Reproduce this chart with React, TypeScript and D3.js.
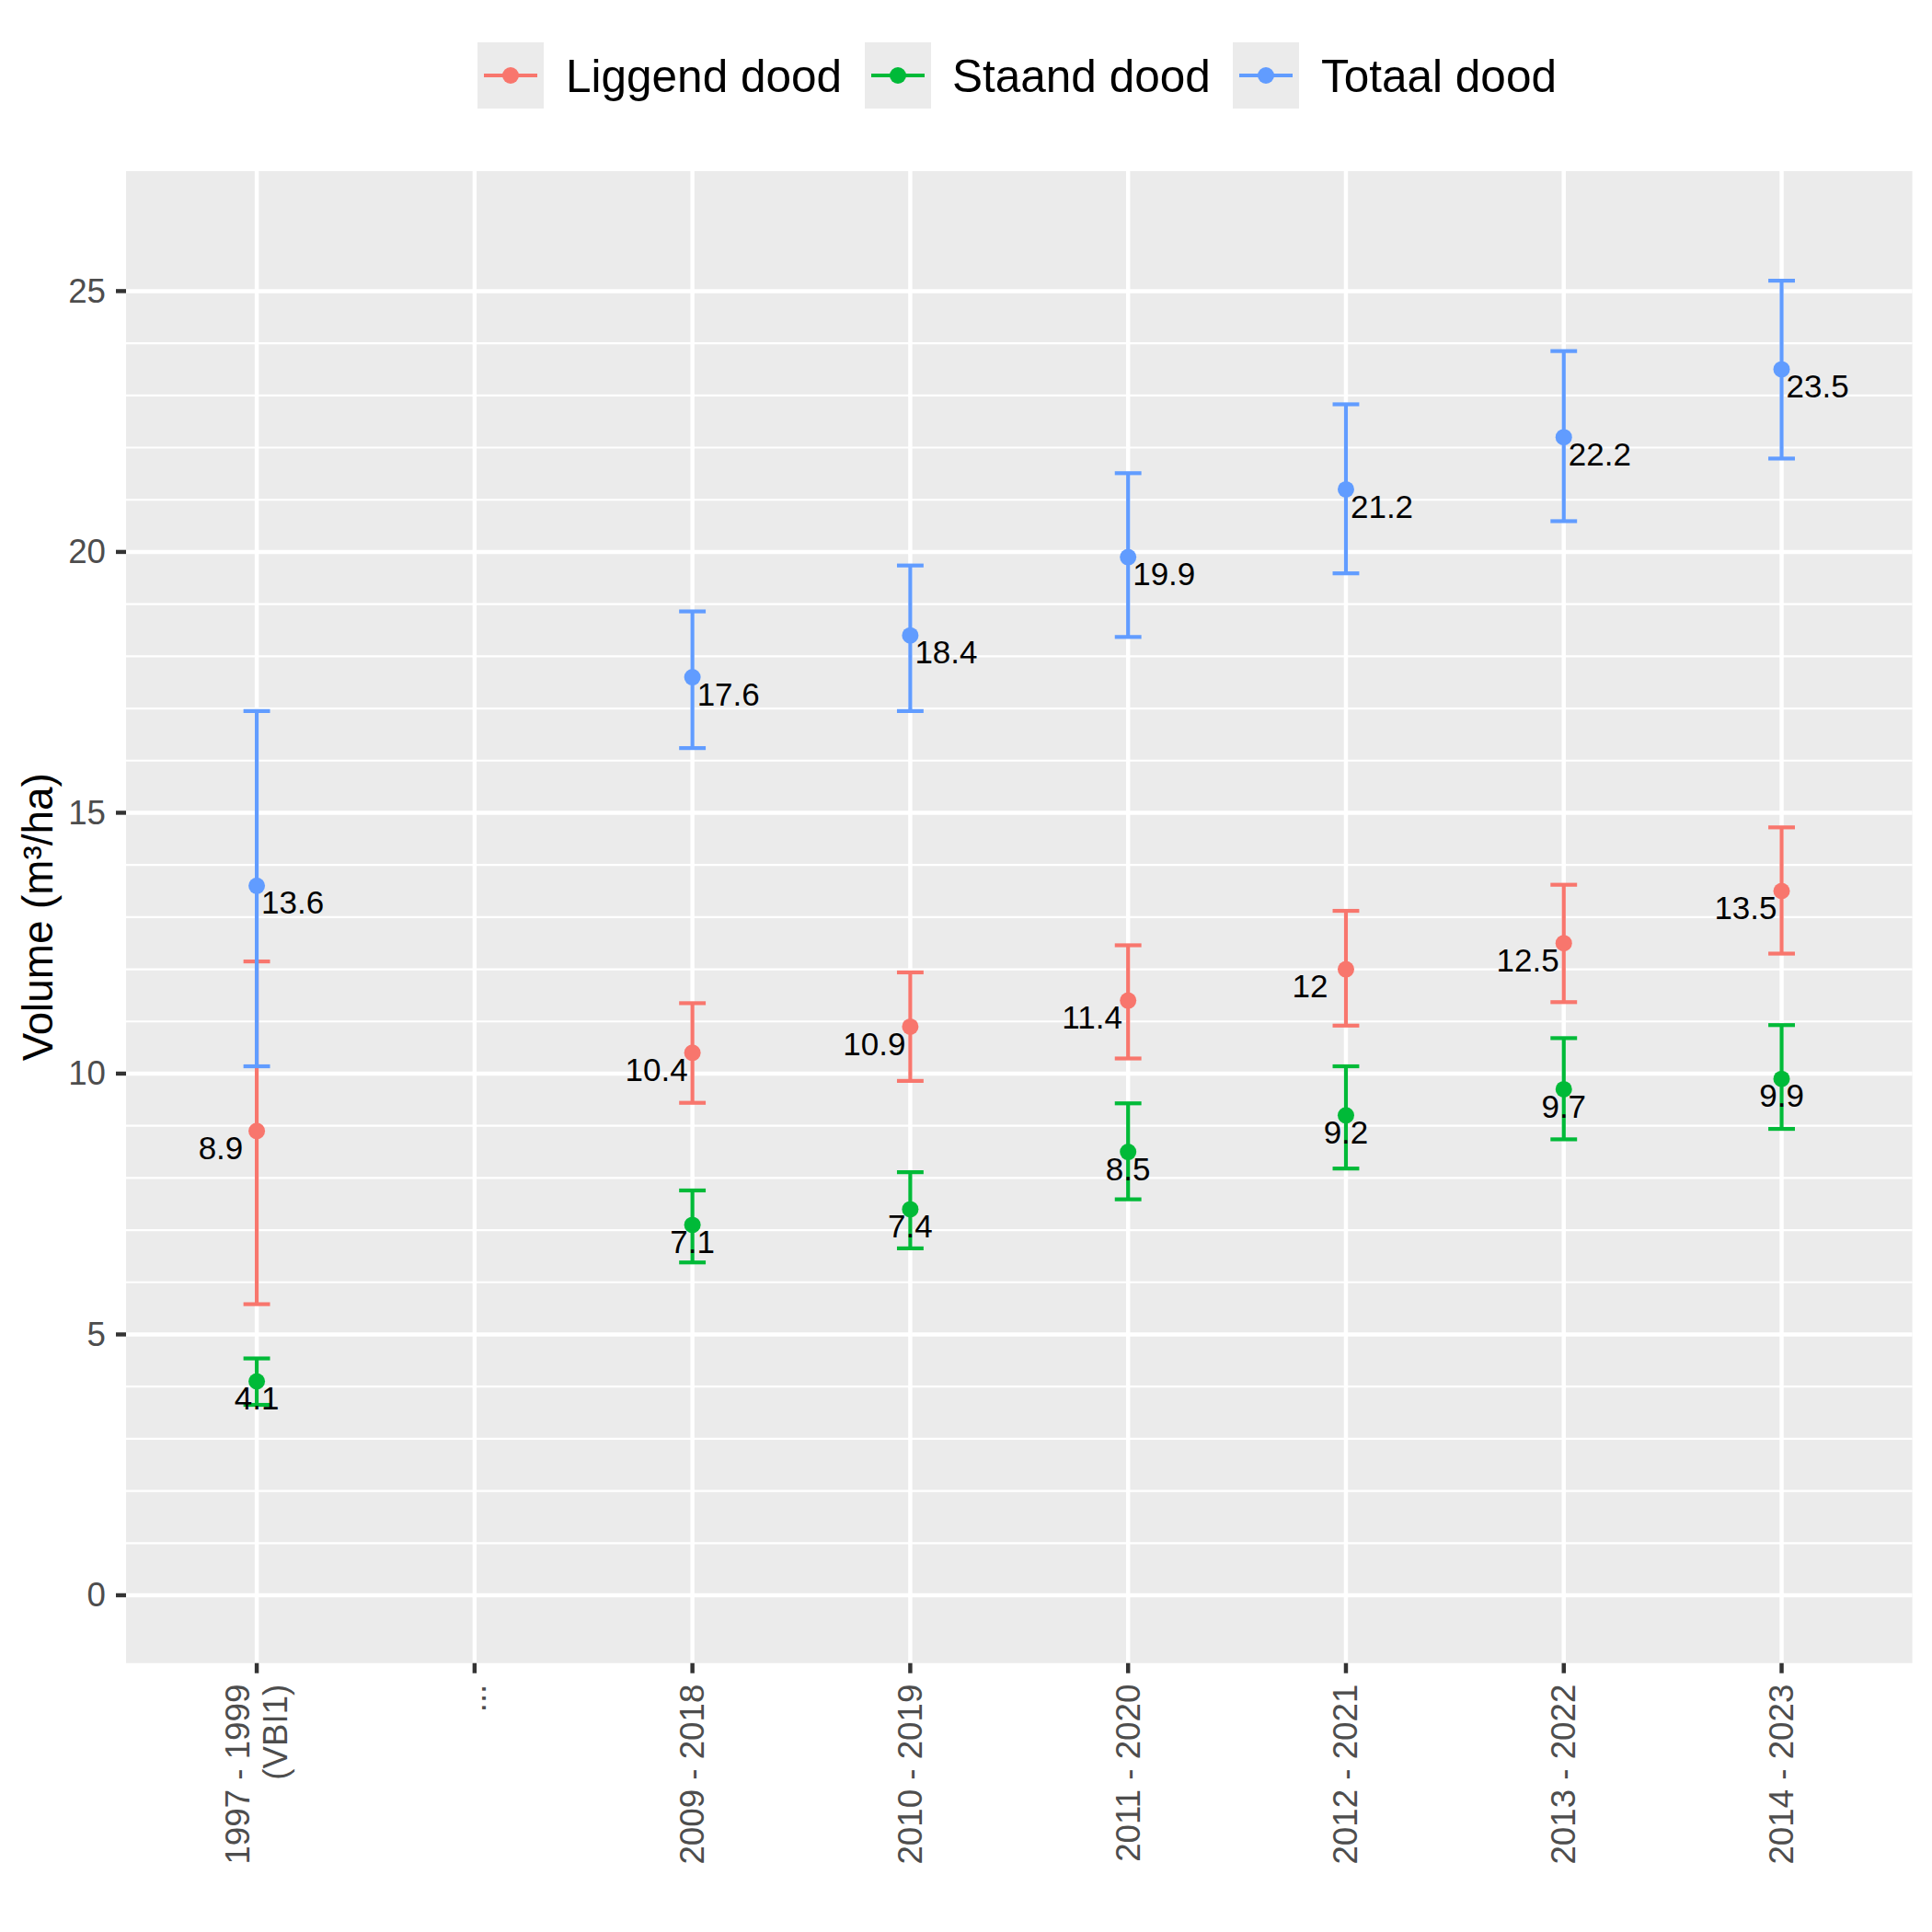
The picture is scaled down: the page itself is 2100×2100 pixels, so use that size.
import React from "react";
import * as d3 from "d3";

const categories = [
  "1997 - 1999\n(VBI1)",
  "...",
  "2009 - 2018",
  "2010 - 2019",
  "2011 - 2020",
  "2012 - 2021",
  "2013 - 2022",
  "2014 - 2023",
];

const liggendMean = [8.9, null, 10.4, 10.9, 11.4, 12, 12.5, 13.5];
const liggendLow = [5.58, null, 9.44, 9.86, 10.29, 10.92, 11.37, 12.3];
const liggendHigh = [12.15, null, 11.35, 11.94, 12.46, 13.12, 13.62, 14.72];

const staandMean = [4.1, null, 7.1, 7.4, 8.5, 9.2, 9.7, 9.9];
const staandLow = [3.65, null, 6.38, 6.65, 7.59, 8.18, 8.74, 8.94];
const staandHigh = [4.54, null, 7.76, 8.11, 9.43, 10.14, 10.68, 10.93];

const totaalMean = [13.6, null, 17.6, 18.4, 19.9, 21.2, 22.2, 23.5];
const totaalLow = [10.14, null, 16.24, 16.95, 18.37, 19.59, 20.59, 21.79];
const totaalHigh = [16.95, null, 18.86, 19.74, 21.51, 22.83, 23.85, 25.2];

const seriesNames = ["Liggend dood", "Staand dood", "Totaal dood"];
const seriesColors = ["#F8766D", "#00BA38", "#619CFF"];
const labelNudge = [-1, 0, 1];

const yMajor = [0, 5, 10, 15, 20, 25];
const yMinor = d3.range(0, 26).filter((v) => v % 5 !== 0);

const FONT = "'Liberation Sans', Arial, Helvetica, sans-serif";

export default function App() {
  const W = 2100;
  const H = 2100;
  const panel = { left: 137, right: 2078.6, top: 186, bottom: 1807.7 };

  const x = d3
    .scalePoint<string>()
    .domain(categories)
    .range([panel.left, panel.right])
    .padding(0.6);
  const y = d3.scaleLinear().domain([-1.3, 27.3]).range([panel.bottom, panel.top]);

  const series = [
    { mean: liggendMean, low: liggendLow, high: liggendHigh },
    { mean: staandMean, low: staandLow, high: staandHigh },
    { mean: totaalMean, low: totaalLow, high: totaalHigh },
  ];

  const step = x.step();
  const capHalf = step * 0.061;
  const nudgePx = step * 0.165;

  const legendKeysX = [519, 940, 1340];
  const legendTextX = [615, 1035, 1436];

  return (
    <svg
      width={W}
      height={H}
      style={{ position: "absolute", left: 0, top: 0, background: "#fff" }}
      fontFamily={FONT}
    >
      <rect x={0} y={0} width={W} height={H} fill="#ffffff" />
      {/* panel */}
      <rect
        x={panel.left}
        y={panel.top}
        width={panel.right - panel.left}
        height={panel.bottom - panel.top}
        fill="#EBEBEB"
      />
      {yMinor.map((v) => (
        <line
          key={"mi" + v}
          x1={panel.left}
          x2={panel.right}
          y1={y(v)}
          y2={y(v)}
          stroke="#fff"
          strokeWidth={2.2}
        />
      ))}
      {yMajor.map((v) => (
        <line
          key={"ma" + v}
          x1={panel.left}
          x2={panel.right}
          y1={y(v)}
          y2={y(v)}
          stroke="#fff"
          strokeWidth={4.45}
        />
      ))}
      {categories.map((c) => (
        <line
          key={"vx" + c}
          x1={x(c)}
          x2={x(c)}
          y1={panel.top}
          y2={panel.bottom}
          stroke="#fff"
          strokeWidth={4.45}
        />
      ))}

      {/* error bars */}
      {series.map((s, si) =>
        categories.map((c, i) => {
          if (s.mean[i] == null) return null;
          const cx = x(c) as number;
          const col = seriesColors[si];
          return (
            <g key={"eb" + si + "-" + i} stroke={col} strokeWidth={4.2} fill="none">
              <line x1={cx} x2={cx} y1={y(s.low[i] as number)} y2={y(s.high[i] as number)} />
              <line x1={cx - capHalf} x2={cx + capHalf} y1={y(s.low[i] as number)} y2={y(s.low[i] as number)} />
              <line x1={cx - capHalf} x2={cx + capHalf} y1={y(s.high[i] as number)} y2={y(s.high[i] as number)} />
            </g>
          );
        })
      )}
      {/* points */}
      {series.map((s, si) =>
        categories.map((c, i) => {
          if (s.mean[i] == null) return null;
          return (
            <circle
              key={"pt" + si + "-" + i}
              cx={x(c) as number}
              cy={y(s.mean[i] as number)}
              r={9}
              fill={seriesColors[si]}
            />
          );
        })
      )}
      {/* labels */}
      {series.map((s, si) =>
        categories.map((c, i) => {
          if (s.mean[i] == null) return null;
          return (
            <text
              key={"lb" + si + "-" + i}
              x={(x(c) as number) + labelNudge[si] * nudgePx}
              y={y((s.mean[i] as number) - 0.32)}
              textAnchor="middle"
              dominantBaseline="central"
              fontSize={35}
              fill="#000"
            >
              {String(s.mean[i])}
            </text>
          );
        })
      )}

      {/* y axis */}
      {yMajor.map((v) => (
        <g key={"yt" + v}>
          <line x1={panel.left - 11} x2={panel.left} y1={y(v)} y2={y(v)} stroke="#333333" strokeWidth={4.45} />
          <text
            x={panel.left - 22}
            y={y(v)}
            textAnchor="end"
            dominantBaseline="central"
            fontSize={36.7}
            fill="#4D4D4D"
          >
            {v}
          </text>
        </g>
      ))}
      <text
        transform={`translate(41, ${(panel.top + panel.bottom) / 2}) rotate(-90)`}
        textAnchor="middle"
        dominantBaseline="central"
        fontSize={45.8}
        fill="#000"
      >
        Volume (m³/ha)
      </text>

      {/* x axis */}
      {categories.map((c) => {
        const cx = x(c) as number;
        const lines = c.split("\n");
        const lh = 41;
        return (
          <g key={"xt" + c}>
            <line x1={cx} x2={cx} y1={panel.bottom} y2={panel.bottom + 11} stroke="#333333" strokeWidth={4.45} />
            <g transform={`translate(${cx}, ${panel.bottom + 23}) rotate(-90)`}>
              {lines.map((ln, li) => (
                <text
                  key={li}
                  x={0}
                  y={(li - (lines.length - 1) / 2) * lh}
                  textAnchor="end"
                  dominantBaseline="central"
                  fontSize={36.7}
                  fill="#4D4D4D"
                >
                  {ln}
                </text>
              ))}
            </g>
          </g>
        );
      })}

      {/* legend */}
      {seriesNames.map((nm, si) => (
        <g key={"lg" + si}>
          <rect x={legendKeysX[si]} y={46} width={72} height={72} fill="#EBEBEB" />
          <line
            x1={legendKeysX[si] + 7}
            x2={legendKeysX[si] + 65}
            y1={82}
            y2={82}
            stroke={seriesColors[si]}
            strokeWidth={4.2}
          />
          <circle cx={legendKeysX[si] + 36} cy={82} r={9} fill={seriesColors[si]} />
          <text x={legendTextX[si]} y={82} dominantBaseline="central" fontSize={49.5} fill="#000">
            {nm}
          </text>
        </g>
      ))}
    </svg>
  );
}
